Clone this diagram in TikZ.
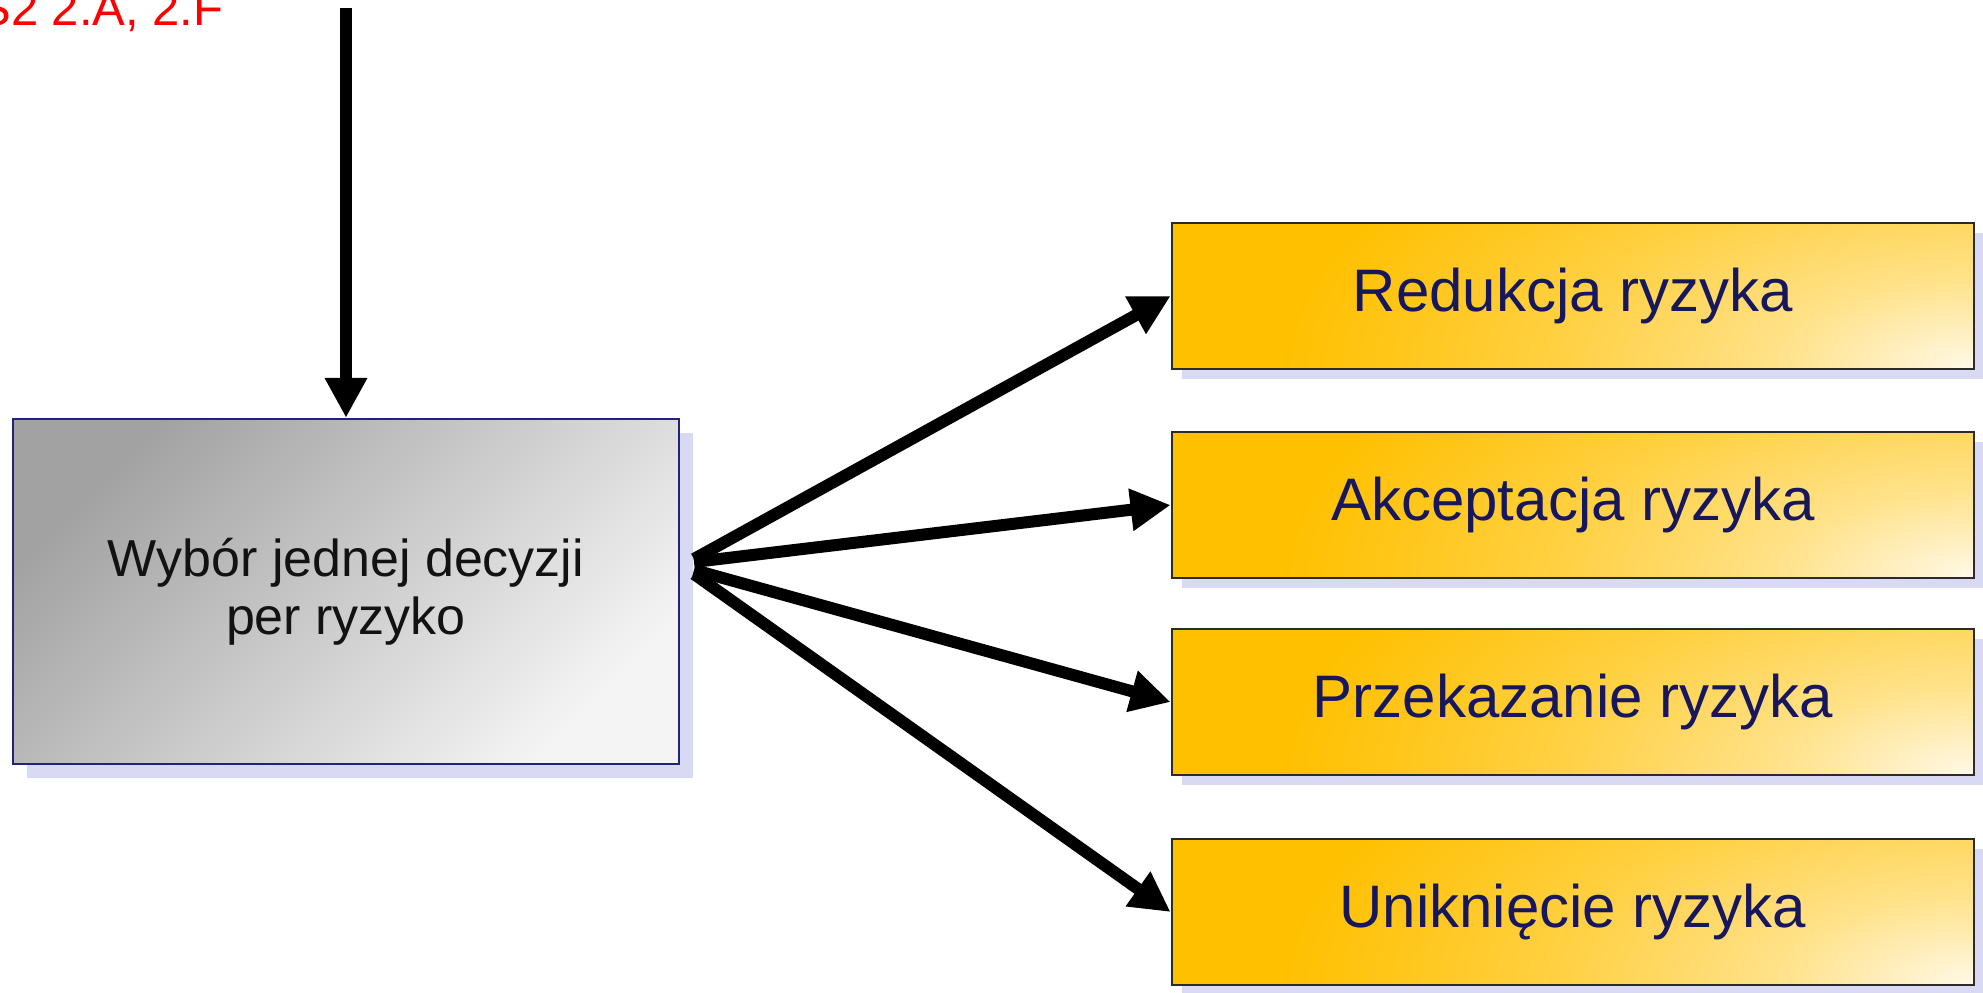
\documentclass[tikz,border=0pt]{standalone}
\usepackage{fontspec}
\setmainfont{Liberation Sans}
\usetikzlibrary{arrows.meta,shadows}

\definecolor{greydark}{HTML}{A2A2A2}
\definecolor{greylight}{HTML}{F4F4F4}
\definecolor{navyline}{HTML}{23237A}
\definecolor{greytext}{HTML}{121212}
\definecolor{gold}{HTML}{FFC000}
\definecolor{goldlight}{HTML}{FFF9E8}
\definecolor{goldline}{HTML}{2B2B2B}
\definecolor{goldtext}{HTML}{17175E}
\definecolor{shadowcol}{HTML}{D9D9F3}

% light glow in the lower right corner of the response boxes
\pgfdeclareradialshading{goldglow}{\pgfpoint{0bp}{0bp}}{%
  color(0bp)=(goldlight); color(5bp)=(goldlight!60!gold);
  color(11bp)=(gold!72!goldlight); color(18bp)=(gold); color(50bp)=(gold)}

\begin{document}
\begin{tikzpicture}[x=0.5pt,y=-0.5pt,
  decision/.style={draw=navyline, line width=1.2pt,
    top color=greydark, bottom color=greylight, shading angle=45,
    minimum width=333pt, minimum height=172.5pt, inner sep=0pt,
    align=center, text=greytext, font=\fontsize{26}{29}\selectfont,
    general shadow={fill=shadowcol, shadow xshift=7pt, shadow yshift=-7pt}},
  option/.style={draw=goldline, line width=1.4pt, fill=gold,
    path picture={\shade[shading=goldglow]
      ([shift={(-480pt,-220pt)}]path picture bounding box.south east)
      rectangle ([shift={(480pt,220pt)}]path picture bounding box.south east);},
    minimum width=401pt, minimum height=73pt, inner sep=0pt,
    text=goldtext, font=\fontsize{30}{34}\selectfont,
    general shadow={fill=shadowcol, shadow xshift=5pt, shadow yshift=-5pt}},
  flow/.style={line width=6pt, -{Triangle[width=20pt,length=20pt]}},
  reftext/.style={anchor=base west, inner sep=0pt, text=red,
    font=\fontsize{24.5}{29}\selectfont}
]
\useasboundingbox (0,0) rectangle (1983,992);

% reference label in the top-left corner
\node[reftext] (ref) at (-22,25) {S2 2.A, 2.F};

% decision box and the four possible responses
\node[decision] (choice) at (346,591.5) {Wybór jednej decyzji\\per ryzyko};
\node[option] (o1) at (1573,296) {Redukcja ryzyka};
\node[option] (o2) at (1573,505) {Akceptacja ryzyka};
\node[option] (o3) at (1573,702) {Przekazanie ryzyka};
\node[option] (o4) at (1573,912) {Uniknięcie ryzyka};

% incoming arrow from above
\coordinate (in) at (346,8);
\draw[flow] (in) -- (choice.north);

% fan of arrows to the responses
\coordinate (f1) at (694,559);
\coordinate (f2) at (694,562);
\coordinate (f3) at (694,570);
\coordinate (f4) at (694,574);
\draw[flow] (f1) -- (o1.west);
\draw[flow] (f2) -- (o2.west);
\draw[flow] (f3) -- (o3.west);
\draw[flow] (f4) -- (o4.west);
\end{tikzpicture}
\end{document}
